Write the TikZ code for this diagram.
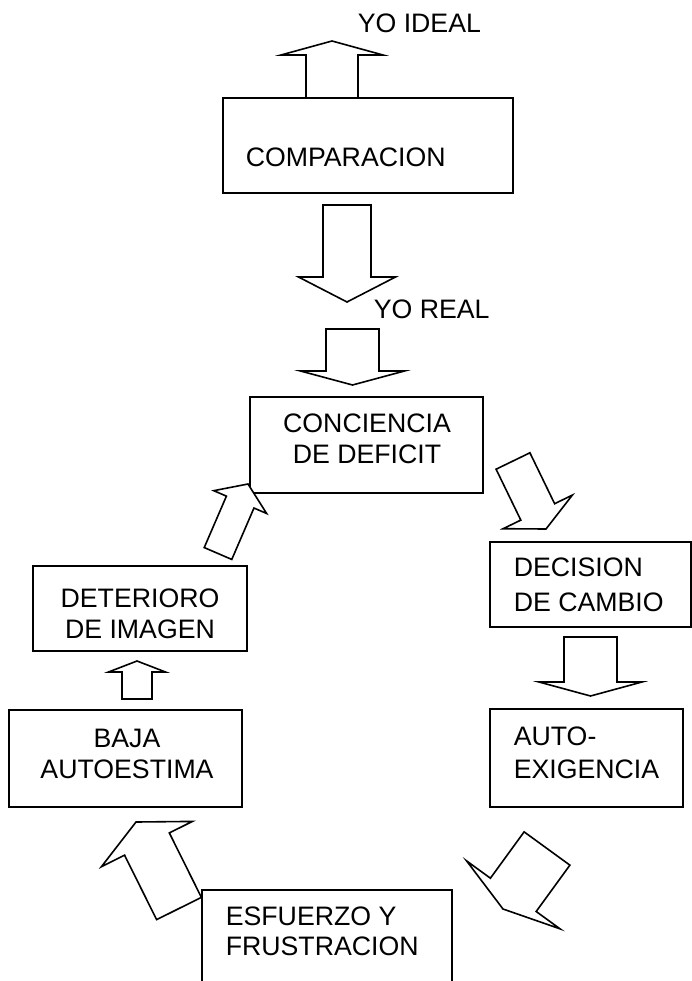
\documentclass[tikz,border=0pt]{standalone}
\usepackage{fontspec}
\setmainfont{Liberation Sans}
\usetikzlibrary{calc}
% flecha de bloque: #1 origen, #2 punta, #3 semiancho cuerpo, #4 semiancho cabeza, #5 largo cabeza
\newcommand{\flecha}[5]{%
\path ($(#2)!#5!(#1)$) coordinate (cab);
\draw[bloque] ($(#1)!#3!90:(#2)$) -- ($(cab)!#3!90:(#2)$) -- ($(cab)!#4!90:(#2)$) -- (#2)
  -- ($(cab)!#4!-90:(#2)$) -- ($(cab)!#3!-90:(#2)$) -- ($(#1)!#3!-90:(#2)$) -- cycle;}
\begin{document}
\begin{tikzpicture}[x=1pt,y=-1pt,
  caja/.style={draw,inner sep=0pt},
  texto/.style={inner sep=0pt,font=\fontsize{26.7}{31}\selectfont},
  bloque/.style={draw,fill=white,line join=miter}]
\pgfsetlinewidth{1.6pt}
\clip (0,0) rectangle (692,981);
% Cajas
\node[caja,minimum width=290pt,minimum height=95pt] (comp) at (368,145.5) {};
\node[caja,minimum width=233pt,minimum height=96pt] (conc) at (366.5,445) {};
\node[caja,minimum width=201pt,minimum height=85pt] (dec) at (590.5,584.5) {};
\node[caja,minimum width=193pt,minimum height=98pt] (auto) at (586.5,758) {};
\node[caja,minimum width=250pt,minimum height=110pt] (esf) at (327,945) {};
\node[caja,minimum width=233pt,minimum height=97pt] (baja) at (125.5,758.5) {};
\node[caja,minimum width=214pt,minimum height=85pt] (det) at (140,608.5) {};
% Textos (base de la ultima linea)
\node[texto,anchor=base west] (ideal) at (357,33) {YO IDEAL};
\node[texto,anchor=base west] (tcomp) at (245,167) {COMPARACION};
\node[texto,anchor=base west] (real) at (373,318) {YO REAL};
\node[texto,anchor=base,align=center] (tconc) at (367,463) {CONCIENCIA\\DE DEFICIT};
\node[texto,anchor=base west,align=left] (tdec) at (513,611) {DECISION\\[4pt]DE CAMBIO};
\node[texto,anchor=base west,align=left] (tauto) at (513,778) {AUTO-\\[2pt]EXIGENCIA};
\node[texto,anchor=base west,align=left] (tesf) at (225,955) {ESFUERZO Y\\[-1pt]FRUSTRACION};
\node[texto,anchor=base,align=center] (tbaja) at (127,778) {BAJA\\AUTOESTIMA};
\node[texto,anchor=base,align=center] (tdet) at (140,638) {DETERIORO\\DE IMAGEN};
% Extremos de las flechas
\coordinate (comp-n) at (332,98);    \coordinate (ideal-s) at (332,41);
\coordinate (comp-s) at (347,205);   \coordinate (real-n) at (347,302);
\coordinate (real-s) at (352.5,329); \coordinate (conc-n) at (352.5,385);
\coordinate (conc-e) at (513,461);   \coordinate (dec-n) at (546,529);
\coordinate (dec-s) at (590.5,637);  \coordinate (auto-n) at (590.5,696);
\coordinate (auto-s) at (547,848.5); \coordinate (esf-e) at (503,909);
\coordinate (esf-w) at (179,908.5);  \coordinate (baja-s) at (136,822);
\coordinate (baja-n) at (137,699);   \coordinate (det-s) at (137,661);
\coordinate (det-n) at (218,553.5);  \coordinate (conc-w) at (248,484);
% Flechas
\flecha{comp-n}{ideal-s}{26pt}{51pt}{14pt}
\flecha{comp-s}{real-n}{24pt}{48.5pt}{25pt}
\flecha{real-s}{conc-n}{26.5pt}{52pt}{14pt}
\flecha{conc-e}{dec-n}{18.8pt}{38.5pt}{19pt}
\flecha{dec-s}{auto-n}{26.5pt}{51.5pt}{14pt}
\flecha{auto-s}{esf-e}{28.3pt}{57.8pt}{17.5pt}
\flecha{esf-w}{baja-s}{25pt}{50.8pt}{24.6pt}
\flecha{baja-n}{det-s}{15pt}{28.5pt}{11pt}
\flecha{det-n}{conc-w}{15pt}{28.8pt}{19.7pt}
\end{tikzpicture}
\end{document}
